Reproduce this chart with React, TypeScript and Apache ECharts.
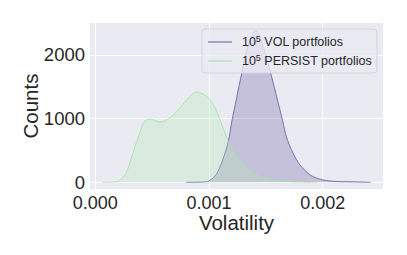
import React, { useEffect, useRef } from "react";
import * as echarts from "echarts";

const volX = [0.0008, 0.0009, 0.00098, 0.00103, 0.00107, 0.00112, 0.00117, 0.0012, 0.00124, 0.00129, 0.00132, 0.00141, 0.0015, 0.00154, 0.00159, 0.00165, 0.00168, 0.00174, 0.0018, 0.00189, 0.00198, 0.00209, 0.00224, 0.00242];
const volY = [0, 3, 10, 60, 141, 350, 640, 950, 1300, 1732, 1994, 2386, 1994, 1732, 1380, 947, 716, 455, 272, 115, 47, 16, 8, 0];

const perX = [0.00006, 0.00015, 0.00021, 0.00027, 0.00033, 0.00039, 0.00043, 0.00048, 0.00052, 0.00057, 0.00065, 0.00074, 0.00083, 0.00089, 0.00095, 0.00101, 0.00107, 0.00112, 0.00118, 0.00124, 0.0013, 0.00136, 0.00145, 0.00156, 0.00174, 0.00195];
const perY = [0, 5, 25, 140, 455, 770, 950, 994, 975, 946, 1005, 1160, 1345, 1418, 1386, 1292, 1108, 873, 612, 428, 290, 193, 99, 36, 10, 0];

const xTicks = [0, 0.001, 0.002];
const yTicks = [0, 1000, 2000];
const seriesNames = ["VOL", "PERSIST"];

const FONT = "Liberation Sans, Arial, sans-serif";
const TXT = "#262626";
const PURPLE = "#5c5a9e";
const GREEN = "#a2e2a2";

export default function App() {
  const ref = useRef<HTMLDivElement>(null);
  useEffect(() => {
    if (!ref.current) return;
    const chart = echarts.init(ref.current, null, { renderer: "svg" });
    const pair = (xs: number[], ys: number[]) => xs.map((x, i) => [x, ys[i]]);
    chart.setOption({
      animation: false,
      backgroundColor: "#ffffff",
      textStyle: { fontFamily: FONT },
      grid: {
        left: 90,
        right: 24,
        top: 23,
        bottom: 66,
        show: true,
        backgroundColor: "#eaeaf2",
        borderWidth: 0,
      },
      legend: {
        orient: "vertical",
        right: 30,
        top: 29,
        padding: [5, 5, 4, 6],
        itemGap: 3,
        itemWidth: 24,
        itemHeight: 1,
        backgroundColor: "rgba(234,234,242,0.8)",
        borderColor: "#d4d4dc",
        borderWidth: 1,
        borderRadius: 3,
        data: [
          { name: seriesNames[0] + " portfolios", icon: "rect", itemStyle: { color: PURPLE } },
          { name: seriesNames[1] + " portfolios", icon: "rect", itemStyle: { color: GREEN } },
        ],
        formatter: (name: string) => "{f|10}{s|5}{b| " + name + "}",
        textStyle: {
          color: TXT,
          fontFamily: FONT,
          rich: {
            f: { fontSize: 12.5, color: TXT, fontFamily: FONT, lineHeight: 16, padding: [0, 0, 0, 5] },
            b: { fontSize: 12.5, color: TXT, fontFamily: FONT, lineHeight: 16 },
            s: { fontSize: 9, color: TXT, fontFamily: FONT, verticalAlign: "top", lineHeight: 16, padding: [0, 0, 7, 0] },
          },
        },
      },
      xAxis: {
        type: "value",
        min: -0.000046,
        max: 0.00253,
        name: "Volatility",
        nameLocation: "middle",
        nameGap: 23,
        nameMoveOverlap: false,
        nameTextStyle: { fontSize: 20.5, color: TXT, fontFamily: FONT },
        axisLine: { show: false },
        axisTick: { show: false, customValues: xTicks },
        axisLabel: {
          customValues: xTicks,
          fontSize: 18,
          color: TXT,
          fontFamily: FONT,
          margin: 5,
          formatter: (v: number) => v.toFixed(3),
        },
        splitLine: { show: true, lineStyle: { color: "#ffffff", width: 1 } },
      },
      yAxis: {
        type: "value",
        min: -105,
        max: 2500,
        name: "Counts",
        nameLocation: "middle",
        nameGap: 49,
        nameMoveOverlap: false,
        nameTextStyle: { fontSize: 20.5, color: TXT, fontFamily: FONT },
        axisLine: { show: false },
        axisTick: { show: false, customValues: yTicks },
        axisLabel: {
          customValues: yTicks,
          fontSize: 18.5,
          color: TXT,
          fontFamily: FONT,
          margin: 5,
          formatter: (v: number) => String(v),
        },
        splitLine: { show: true, lineStyle: { color: "#ffffff", width: 1 } },
      },
      series: [
        {
          name: seriesNames[0] + " portfolios",
          type: "line",
          data: pair(volX, volY),
          smooth: 0.3,
          symbol: "none",
          lineStyle: { color: PURPLE, width: 0.8 },
          itemStyle: { color: PURPLE },
          areaStyle: { color: "rgba(99,87,157,0.4)" },
          z: 2,
        },
        {
          name: seriesNames[1] + " portfolios",
          type: "line",
          data: pair(perX, perY),
          smooth: 0.3,
          symbol: "none",
          lineStyle: { color: GREEN, width: 0.8 },
          itemStyle: { color: GREEN },
          areaStyle: { color: "rgba(176,234,172,0.42)" },
          z: 3,
        },
      ],
    });
    return () => chart.dispose();
  }, []);
  return <div ref={ref} style={{ position: "fixed", left: 0, top: 0, width: 407, height: 255 }} />;
}
